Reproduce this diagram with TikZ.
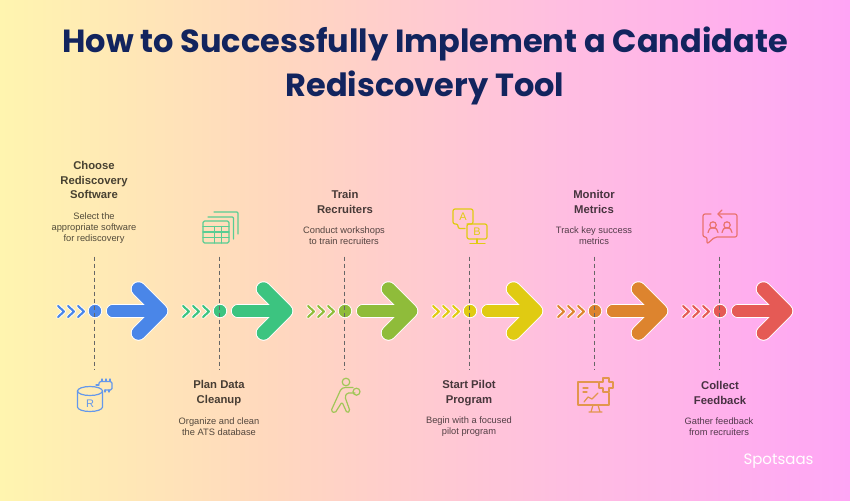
\documentclass[tikz,border=0pt]{standalone}
\usepackage{fontspec}
\setmainfont{Liberation Sans}
\newfontfamily\titlefont{Poppins}
\usetikzlibrary{
  arrows.meta,
}
\definecolor{bgA}{RGB}{255,245,175}
\definecolor{bgB}{RGB}{255,216,190}
\definecolor{bgC}{RGB}{255,190,225}
\definecolor{bgD}{RGB}{255,165,245}
\definecolor{navy}{RGB}{18,36,94}
\definecolor{stepblue}{RGB}{74,134,232}
\definecolor{stepgreen}{RGB}{60,196,128}
\definecolor{stepolive}{RGB}{143,188,58}
\definecolor{stepyellow}{RGB}{224,203,18}
\definecolor{steporange}{RGB}{221,132,46}
\definecolor{stepred}{RGB}{229,90,85}
\pgfdeclarehorizontalshading{bgfade}{100bp}{color(0bp)=(bgA); color(25bp)=(bgA); color(41bp)=(bgB); color(58bp)=(bgC); color(75bp)=(bgD); color(100bp)=(bgD)}
\tikzset{
  headline/.style={font=\titlefont\bfseries\fontsize{32}{44}\selectfont, text=navy, align=center},
  steptitle/.style={font=\bfseries\fontsize{11.3}{14.6}\selectfont, text=black, text opacity=.72, align=center},
  stepnote/.style={font=\fontsize{9.3}{11}\selectfont, text=black, text opacity=.68, align=center},
  iconline/.style={line width=1.2pt, line cap=round, line join=round},
  icontext/.style={font=\fontsize{11}{11}\selectfont, inner sep=0pt},
  stepdot/.style={circle, draw=white, line width=.8pt, minimum size=13.5pt, inner sep=0pt},
  guide/.style={draw=black!60, line width=1.25pt, dash pattern=on 4pt off 3pt},
}
\begin{document}
\begin{tikzpicture}[x=1pt, y=-1pt]
\useasboundingbox (0,0) rectangle (850,500);
\shade[shading=bgfade] (0,0) rectangle (850,500);
\node[headline] (title) at (425,66) {How to Successfully Implement a Candidate\\Rediscovery Tool};
% arrows, dots and guides
\foreach \k/\c in {0/stepblue, 1/stepgreen, 2/stepolive, 3/stepyellow, 4/steporange, 5/stepred} {
  \begin{scope}[xshift=125*\k]
    \foreach \d in {58,68,78} {
      \draw[white, line width=3.8pt, line join=round, line cap=round] (\d,306) -- +(6,5.5) -- +(0,11);
      \draw[\c, line width=2.1pt, line join=round, line cap=round] (\d,306) -- +(6,5.5) -- +(0,11);
    }
    \foreach \w/\v/\e in {14/15.5/white, 12/13.5/\c} {
      \draw[\e, line width=\w pt, line cap=round] (113,311) -- (160,311);
      \draw[\e, line width=\v pt, line cap=round, line join=round] (138.5,289) -- (160.5,311) -- (138.5,333);
    }
    \draw[\c, line width=12pt, line cap=round] (113,311) -- (160,311);
    \node[stepdot, fill=\c] (dot\k) at (95,311) {};
    \coordinate (top\k) at (94.8,256.5);
    \coordinate (bottom\k) at (94.8,370);
    \path[guide] (top\k) -- (bottom\k);
  \end{scope}
}
% texts
\node[steptitle] (title1) at (94,180) {Choose\\Rediscovery\\Software};
\node[stepnote] (note1) at (94,228) {Select the\\appropriate software\\for rediscovery};
\node[steptitle] (title2) at (219,393) {Plan Data\\Cleanup};
\node[stepnote] (note2) at (219,426.5) {Organize and clean\\the ATS database};
\node[steptitle] (title3) at (345,202) {Train\\Recruiters};
\node[stepnote] (note3) at (344,235.5) {Conduct workshops\\to train recruiters};
\node[steptitle] (title4) at (469,393) {Start Pilot\\Program};
\node[stepnote] (note4) at (469,426.5) {Begin with a focused\\pilot program};
\node[steptitle] (title5) at (594,202) {Monitor\\Metrics};
\node[stepnote] (note5) at (594,235.5) {Track key success\\metrics};
\node[steptitle] (title6) at (720,393) {Collect\\Feedback};
\node[stepnote] (note6) at (719,426.5) {Gather feedback\\from recruiters};
% database icon
\begin{scope}[iconline, stepblue!85!white]
  \draw (90,391) ellipse[x radius=12.5, y radius=4.5];
  \draw (77.5,391) -- (77.5,407) arc[start angle=180, end angle=0, x radius=12.5, y radius=4.5] -- (102.5,391);
  \draw[rounded corners=1.5pt] (99,384) -- (99,381.5) -- (112,381.5) -- (112,390) -- (105,390);
  \draw (102,379) -- (102,381.5) (106,379) -- (106,381.5) (110,379) -- (110,381.5) (105,390) -- (105,392) (109,390) -- (109,392);
  \draw (96,385) -- (99,385);
  \node[icontext, text=stepblue!85!white] (dbmark) at (90,404) {R};
\end{scope}
% table icon
\begin{scope}[iconline, stepgreen!85!white]
  \draw[rounded corners=1.5pt] (203,221) rectangle (229,243);
  \draw (203,226.5) -- (229,226.5) (203,232) -- (229,232) (203,237.5) -- (229,237.5);
  \draw (214.5,226.5) -- (214.5,243) (221.5,226.5) -- (221.5,243);
  \draw[rounded corners=1pt] (208,217) -- (233.5,217) -- (233.5,239);
  \draw[rounded corners=1pt] (214,212) -- (238,212) -- (238,234);
\end{scope}
% runner icon
\begin{scope}[iconline, stepolive!85!white]
  \draw (346,382) circle[radius=3.8];
  \draw (356.5,391.7) circle[radius=3.5];
  \draw[rounded corners=1.5pt] (353,387.5) -- (344,387.5) -- (341,389) -- (331,411) -- (335,413) -- (342,402) -- (347,413) -- (350,411) -- (345,397) -- (347,393) -- (355,393);
\end{scope}
% A/B test icon
\begin{scope}[iconline, stepyellow]
  \draw[rounded corners=2pt] (467,224) -- (473,224) -- (473,209) -- (453,209) -- (453,224) -- (458,224) -- (458,228.5) -- (465,228.5);
  \draw[rounded corners=2pt] (467,224) rectangle (487,239);
  \draw (477,239) -- (477,243.5) (470,243.5) -- (485,243.5);
  \node[icontext, text=stepyellow] (amark) at (463,216.5) {A};
  \node[icontext, text=stepyellow] (bmark) at (477,231.5) {B};
\end{scope}
% monitor icon
\begin{scope}[iconline, steporange!85!white]
  \draw (598,382) -- (578,382) -- (578,405) -- (609,405) -- (609,393);
  \draw (583,388) -- (588,388) (583,392) -- (587,392);
  \draw (584,402) -- (588,397) -- (592,399) -- (598,393);
  \draw (593,405) -- (591,412) (598,405) -- (600,412) (589,412) -- (602,412);
  \draw (603,378) -- (609,378) -- (609,382) -- (613,382) -- (613,388) -- (609,388) -- (609,392) -- (603,392) -- (603,388) -- (599,388) -- (599,382) -- (603,382) -- cycle;
\end{scope}
% feedback icon
\begin{scope}[iconline, stepred!85!white]
  \draw[rounded corners=2pt] (711,214) -- (703,214) -- (703,237) -- (707,237) -- (707,244) -- (715,237) -- (737,237) -- (737,214) -- (718,214);
  \draw (722,210) -- (718,214) -- (722,218);
  \draw (713,225) circle[radius=3.2] (727,225) circle[radius=3.2];
  \draw (708,232.5) arc[start angle=180, end angle=360, radius=5] (722,232.5) arc[start angle=180, end angle=360, radius=5];
\end{scope}
\node[font=\titlefont\fontsize{15}{15}\selectfont, text=white] (brand) at (778.5,461) {Spotsaas};
\end{tikzpicture}
\end{document}
